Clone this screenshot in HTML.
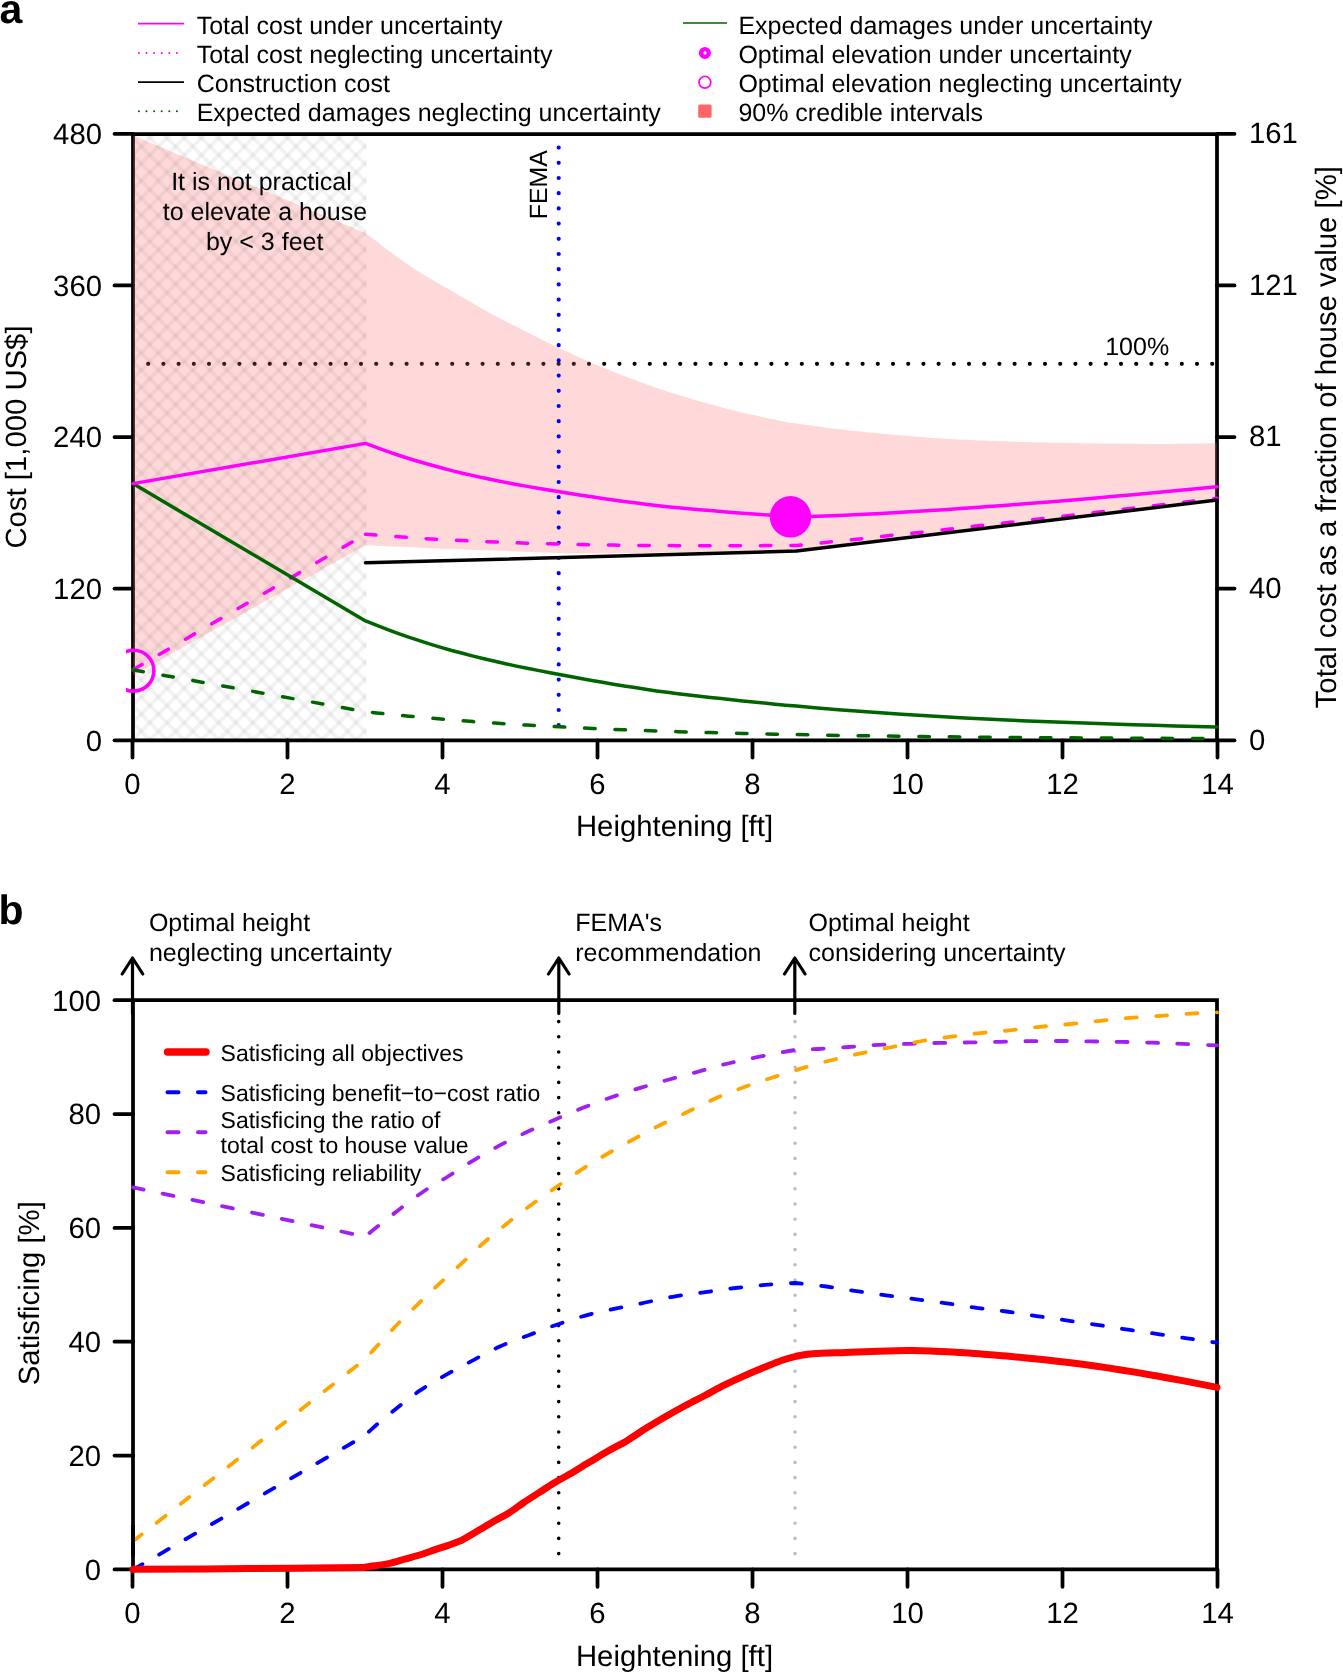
<!DOCTYPE html><html><head><meta charset="utf-8"><style>html,body{margin:0;padding:0;background:#fff;width:1343px;height:1673px;overflow:hidden}svg{display:block;will-change:transform}text{font-family:'Liberation Sans',sans-serif;fill:#000;text-rendering:geometricPrecision}</style></head><body>
<svg width="1343" height="1673" viewBox="0 0 1343 1673">
<defs>
<clipPath id="ca"><rect x="126" y="127" width="1098" height="620"/></clipPath>
<clipPath id="cb"><rect x="126" y="993" width="1098" height="583"/></clipPath>
<pattern id="hatch" patternUnits="userSpaceOnUse" width="17.2" height="17.2" x="7.9" y="13.2"><path d="M-17.2 0L34.4 51.6 M-17.2 -17.2L34.4 34.4 M-17.2 -34.4L34.4 17.2" stroke="#000" stroke-opacity="0.05" stroke-width="3.6"/><path d="M-17.2 8.6L34.4 -43 M-17.2 25.8L34.4 -25.8 M-17.2 43L34.4 -8.6 M-17.2 60.2L34.4 8.6" stroke="#000" stroke-opacity="0.05" stroke-width="3.6"/></pattern>
</defs>
<text x="-0.5" y="22.7" style="font-weight:bold;font-size:41px">a</text>
<g style="font-size:25px">
<text x="196.7" y="33.5">Total cost under uncertainty</text>
<text x="196.7" y="62.8">Total cost neglecting uncertainty</text>
<text x="196.7" y="92.1">Construction cost</text>
<text x="196.7" y="121.2">Expected damages neglecting uncertainty</text>
<text x="738.4" y="33.5">Expected damages under uncertainty</text>
<text x="738.4" y="62.8">Optimal elevation under uncertainty</text>
<text x="738.4" y="92.1">Optimal elevation neglecting uncertainty</text>
<text x="738.4" y="121.2">90% credible intervals</text>
</g>
<path d="M138 23.6H184" stroke="#f0f" stroke-width="1.6"/>
<path d="M138.9 53H184" stroke="#f0f" stroke-width="2" stroke-dasharray="0 7.6" stroke-linecap="round"/>
<path d="M138 82.1H184" stroke="#000" stroke-width="1.6"/>
<path d="M138.9 111.2H184" stroke="#006400" stroke-width="2" stroke-dasharray="0 7.6" stroke-linecap="round"/>
<path d="M683 23H727" stroke="#006400" stroke-width="1.6"/>
<circle cx="704.9" cy="53" r="3.9" fill="none" stroke="#f0f" stroke-width="4.3"/>
<circle cx="704.9" cy="82.2" r="5.9" fill="none" stroke="#f0f" stroke-width="1.7"/>
<rect x="698.2" y="104.4" width="13.4" height="13.3" rx="1.5" fill="#f66"/>
<path d="M133 134H1217V740.3H133Z" stroke="#000" stroke-width="3.75" fill="none" stroke-linejoin="miter"/>
<path d="M114.5 133.8H133" stroke="#000" stroke-width="3.75" fill="none" stroke-linecap="round"/>
<text x="102" y="144.2" text-anchor="end" style="font-size:29.3px">480</text>
<path d="M114.5 285.4H133" stroke="#000" stroke-width="3.75" fill="none" stroke-linecap="round"/>
<text x="102" y="295.8" text-anchor="end" style="font-size:29.3px">360</text>
<path d="M114.5 437H133" stroke="#000" stroke-width="3.75" fill="none" stroke-linecap="round"/>
<text x="102" y="447.4" text-anchor="end" style="font-size:29.3px">240</text>
<path d="M114.5 588.6H133" stroke="#000" stroke-width="3.75" fill="none" stroke-linecap="round"/>
<text x="102" y="599" text-anchor="end" style="font-size:29.3px">120</text>
<path d="M114.5 740.3H133" stroke="#000" stroke-width="3.75" fill="none" stroke-linecap="round"/>
<text x="102" y="750.7" text-anchor="end" style="font-size:29.3px">0</text>
<path d="M1217 133.8H1234.5" stroke="#000" stroke-width="3.75" fill="none" stroke-linecap="round"/>
<text x="1249" y="143.2" style="font-size:29.3px">161</text>
<path d="M1217 285.4H1234.5" stroke="#000" stroke-width="3.75" fill="none" stroke-linecap="round"/>
<text x="1249" y="294.8" style="font-size:29.3px">121</text>
<path d="M1217 437H1234.5" stroke="#000" stroke-width="3.75" fill="none" stroke-linecap="round"/>
<text x="1249" y="446.4" style="font-size:29.3px">81</text>
<path d="M1217 588.6H1234.5" stroke="#000" stroke-width="3.75" fill="none" stroke-linecap="round"/>
<text x="1249" y="598" style="font-size:29.3px">40</text>
<path d="M1217 740.3H1234.5" stroke="#000" stroke-width="3.75" fill="none" stroke-linecap="round"/>
<text x="1249" y="749.7" style="font-size:29.3px">0</text>
<path d="M132.5 740.3V757.5" stroke="#000" stroke-width="3.75" fill="none" stroke-linecap="round"/>
<text x="132.5" y="793.8" text-anchor="middle" style="font-size:29.3px">0</text>
<path d="M287.5 740.3V757.5" stroke="#000" stroke-width="3.75" fill="none" stroke-linecap="round"/>
<text x="287.5" y="793.8" text-anchor="middle" style="font-size:29.3px">2</text>
<path d="M442.5 740.3V757.5" stroke="#000" stroke-width="3.75" fill="none" stroke-linecap="round"/>
<text x="442.5" y="793.8" text-anchor="middle" style="font-size:29.3px">4</text>
<path d="M597.5 740.3V757.5" stroke="#000" stroke-width="3.75" fill="none" stroke-linecap="round"/>
<text x="597.5" y="793.8" text-anchor="middle" style="font-size:29.3px">6</text>
<path d="M752.5 740.3V757.5" stroke="#000" stroke-width="3.75" fill="none" stroke-linecap="round"/>
<text x="752.5" y="793.8" text-anchor="middle" style="font-size:29.3px">8</text>
<path d="M907.5 740.3V757.5" stroke="#000" stroke-width="3.75" fill="none" stroke-linecap="round"/>
<text x="907.5" y="793.8" text-anchor="middle" style="font-size:29.3px">10</text>
<path d="M1062.5 740.3V757.5" stroke="#000" stroke-width="3.75" fill="none" stroke-linecap="round"/>
<text x="1062.5" y="793.8" text-anchor="middle" style="font-size:29.3px">12</text>
<path d="M1217.5 740.3V757.5" stroke="#000" stroke-width="3.75" fill="none" stroke-linecap="round"/>
<text x="1217.5" y="793.8" text-anchor="middle" style="font-size:29.3px">14</text>
<text x="674.5" y="835.8" text-anchor="middle" style="font-size:29.3px">Heightening [ft]</text>
<text transform="translate(25.5 437) rotate(-90)" text-anchor="middle" style="font-size:29.3px">Cost [1,000 US$]</text>
<text transform="translate(1336.2 437.2) rotate(-90)" text-anchor="middle" style="font-size:29.4px">Total cost as a fraction of house value [%]</text>
<path d="M148.2 363.8H1217" stroke="#000" stroke-width="4.2" stroke-dasharray="0 15.2" stroke-linecap="round"/>
<text x="1105.2" y="355.2" style="font-size:25px">100%</text>
<text transform="translate(546.9 150.1) rotate(-90)" text-anchor="end" textLength="69.2" lengthAdjust="spacingAndGlyphs" style="font-size:25px">FEMA</text>
<g clip-path="url(#ca)">
<path d="M133 135.5 C171.8 151.8 326.8 216.9 365.5 233.2 C367.6 234.7 374.3 239.5 377.9 242.2 C381.4 244.9 380.9 244.9 386.8 249.3 C392.8 253.7 403.2 261.7 413.6 268.4 C424 275.1 437.4 282.6 449.3 289.6 C461.2 296.6 473.2 303.8 485.1 310.4 C497 317 508.9 322.9 520.8 329 C532.7 335.1 546.2 342 556.6 347 C567 352 576.5 356.1 583.4 359.2 C590.3 362.3 590.1 362.3 597.9 365.5 C605.7 368.7 617.2 373.5 630 378.2 C642.8 382.9 658.9 388.8 674.7 393.8 C690.5 398.8 710.5 404.5 724.7 408.3 C738.9 412.1 749 414.1 760 416.5 C771 418.9 785.5 421.8 790.6 422.8 C796 423.5 812 425.8 822.8 427.2 C833.6 428.6 844.6 429.8 855.5 431 C866.4 432.2 877.4 433.2 888.3 434.2 C899.2 435.2 910.1 436.2 921 437 C931.9 437.8 942.9 438.6 953.8 439.2 C964.7 439.8 977.2 440.3 986.6 440.7 C996 441.1 999.4 441.2 1010 441.5 C1020.6 441.8 1035.2 442.2 1050.3 442.6 C1065.4 443 1083.8 443.4 1100.5 443.6 C1117.2 443.8 1134 443.9 1150.8 443.9 C1167.5 443.9 1190 443.6 1201 443.4 C1212 443.2 1214.3 443 1217 442.9 L1217 498.4 L1196 500.9 L1175 503.5 L1153.9 506 L1132.9 508.6 L1111.9 511.1 L1090.8 513.7 L1069.8 516.2 L1048.8 518.8 L1027.8 521.3 L1006.8 523.9 L985.7 526.4 L964.7 529 L943.7 531.5 L922.6 534.1 L901.6 536.6 L880.6 539.2 L859.6 541.7 L838.5 544.3 L817.5 546.8 L796.5 549.4 C793.2 549.5 796.3 549.4 776.6 549.9 C756.9 550.4 711.1 551.8 678.3 552.4 C645.5 553 600.3 553.5 580 553.6 C559.7 553.7 571.4 553.4 556.6 552.9 C541.8 552.4 512.9 551.3 491 550.5 C469.1 549.7 446.4 548.9 425.5 548 C404.6 547.1 375.5 545.8 365.5 545.3 C326.8 566.9 171.8 653.6 133 675.2 Z" fill="#f66" fill-opacity="0.25"/>
<rect x="133" y="134" width="233.5" height="606.3" fill="url(#hatch)"/>
</g>
<path d="M558.7 147.6V740" stroke="#00f" stroke-width="4.2" stroke-dasharray="0 15.2" stroke-linecap="round"/>
<g style="font-size:25px" text-anchor="middle">
<text x="261.5" y="190">It is not practical</text>
<text x="265" y="220">to elevate a house</text>
<text x="264.7" y="250">by &lt; 3 feet</text>
</g>
<g clip-path="url(#ca)" fill="none" stroke-linejoin="round">
<path d="M133 669.8 L365.5 534.2" stroke="#f0f" stroke-width="3.5" stroke-dasharray="10.5 19.9" stroke-linecap="round"/>
<path d="M365.5 534.2 L376.3 535.1 L387.1 536 L397.8 536.7 L408.6 537.5 L419.4 538.2 L430.1 538.9 L440.9 539.5 L451.7 540.1 L462.5 540.6 L473.2 541.1 L484 541.6 L494.8 542 L505.6 542.5 L516.4 542.8 L527.1 543.2 L537.9 543.5 L548.7 543.8 L559.5 544.1 L570.2 544.3 L581 544.5 L591.8 544.7 L602.5 544.9 L613.3 545.1 L624.1 545.2 L634.9 545.4 L645.6 545.5 L656.4 545.5 L667.2 545.6 L678 545.7 L688.8 545.7 L699.5 545.7 L710.3 545.8 L721.1 545.8 L731.9 545.7 L742.6 545.7 L753.4 545.7 L764.2 545.6 L775 545.6 L785.7 545.5 L796.5 545.4 L817.5 543.3 L838.5 541.1 L859.6 538.9 L880.6 536.6 L901.6 534.3 L922.6 532.1 L943.7 529.7 L964.7 527.4 L985.7 525 L1006.8 522.7 L1027.8 520.3 L1048.8 517.9 L1069.8 515.5 L1090.8 513.1 L1111.9 510.6 L1132.9 508.2 L1153.9 505.7 L1175 503.3 L1196 500.8 L1217 498.3" stroke="#f0f" stroke-width="3.5" stroke-dasharray="10.5 19.9" stroke-linecap="round"/>
<path d="M133 669.8 L365.5 711.7 L376.3 712.9 L387.1 714 L397.8 715.1 L408.6 716.2 L419.4 717.2 L430.1 718.1 L440.9 719 L451.7 719.9 L462.5 720.7 L473.2 721.6 L484 722.3 L494.8 723.1 L505.6 723.8 L516.4 724.4 L527.1 725.1 L537.9 725.7 L548.7 726.3 L559.5 726.8 L570.2 727.4 L581 727.9 L591.8 728.4 L602.5 728.9 L613.3 729.3 L624.1 729.8 L634.9 730.2 L645.6 730.6 L656.4 730.9 L667.2 731.3 L678 731.7 L688.8 732 L699.5 732.3 L710.3 732.6 L721.1 732.9 L731.9 733.2 L742.6 733.5 L753.4 733.7 L764.2 734 L775 734.2 L785.7 734.4 L796.5 734.6 L817.5 735 L838.5 735.4 L859.6 735.7 L880.6 736 L901.6 736.3 L922.6 736.6 L943.7 736.8 L964.7 737 L985.7 737.2 L1006.8 737.4 L1027.8 737.6 L1048.8 737.7 L1069.8 737.8 L1090.8 738 L1111.9 738.1 L1132.9 738.2 L1153.9 738.3 L1175 738.4 L1196 738.5 L1217 738.6" stroke="#006400" stroke-width="3.5" stroke-dasharray="10.5 19.9" stroke-linecap="round"/>
<path d="M133 483.6 L365.5 620.9 L376.3 625.2 L387.1 629.4 L397.8 633.4 L408.6 637.2 L419.4 640.7 L430.1 644.1 L440.9 647.4 L451.7 650.5 L462.5 653.3 L473.2 656.1 L484 658.7 L494.8 661.3 L505.6 663.7 L516.4 666.1 L527.1 668.3 L537.9 670.4 L548.7 672.5 L559.5 674.5 L570.2 676.5 L581 678.5 L591.8 680.5 L602.5 682.3 L613.3 684.2 L624.1 685.9 L634.9 687.6 L645.6 689.3 L656.4 690.9 L667.2 692.3 L678 693.7 L688.8 695 L699.5 696.3 L710.3 697.5 L721.1 698.6 L731.9 699.8 L742.6 701 L753.4 702.1 L764.2 703.1 L775 704.2 L785.7 705.2 L796.5 706.1 L817.5 707.9 L838.5 709.7 L859.6 711.3 L880.6 712.8 L901.6 714.2 L922.6 715.5 L943.7 716.7 L964.7 717.9 L985.7 719 L1006.8 720 L1027.8 720.9 L1048.8 721.8 L1069.8 722.6 L1090.8 723.3 L1111.9 724 L1132.9 724.7 L1153.9 725.3 L1175 725.9 L1196 726.5 L1217 727" stroke="#006400" stroke-width="3.5" stroke-linecap="round"/>
<path d="M133 483.6 L365.5 443.4 L376.3 447.4 L387.1 451.3 L397.8 455 L408.6 458.5 L419.4 461.7 L430.1 464.8 L440.9 467.8 L451.7 470.6 L462.5 473.2 L473.2 475.6 L484 478 L494.8 480.3 L505.6 482.4 L516.4 484.5 L527.1 486.4 L537.9 488.2 L548.7 490 L559.5 491.7 L570.2 493.5 L581 495.2 L591.8 496.8 L602.5 498.4 L613.3 499.9 L624.1 501.4 L634.9 502.8 L645.6 504.2 L656.4 505.5 L667.2 506.7 L678 507.7 L688.8 508.7 L699.5 509.7 L710.3 510.6 L721.1 511.5 L731.9 512.4 L742.6 513.2 L753.4 514 L764.2 514.8 L775 515.6 L785.7 516.2 L796.5 516.9 L817.5 516.2 L838.5 515.4 L859.6 514.4 L880.6 513.4 L901.6 512.2 L922.6 511 L943.7 509.7 L964.7 508.3 L985.7 506.8 L1006.8 505.2 L1027.8 503.6 L1048.8 502 L1069.8 500.2 L1090.8 498.4 L1111.9 496.6 L1132.9 494.7 L1153.9 492.8 L1175 490.8 L1196 488.8 L1217 486.8" stroke="#f0f" stroke-width="3.5" stroke-linecap="round"/>
<path d="M365.5 562.8 L796.5 551.1 L1217 500.1" stroke="#000" stroke-width="3.5" stroke-linecap="round"/>
<circle cx="133.5" cy="670.7" r="20.4" stroke="#f0f" stroke-width="3.6"/>
</g>
<circle cx="790.5" cy="516.8" r="20.7" fill="#f0f"/>
<text x="-1.5" y="924" style="font-weight:bold;font-size:41px">b</text>
<g style="font-size:25px">
<text x="148.9" y="931.3">Optimal height</text><text x="148.9" y="961.3">neglecting uncertainty</text>
<text x="575.3" y="931.3">FEMA's</text><text x="575.3" y="961.3">recommendation</text>
<text x="808.5" y="931.3">Optimal height</text><text x="808.5" y="961.3">considering uncertainty</text>
</g>
<path d="M132.5 1013.5V958M122.2 974L132.5 958L142.8 974" stroke="#000" stroke-width="3.2" fill="none" stroke-linecap="round" stroke-linejoin="round"/>
<path d="M558.8 1013.5V958M548.5 974L558.8 958L569.1 974" stroke="#000" stroke-width="3.2" fill="none" stroke-linecap="round" stroke-linejoin="round"/>
<path d="M794.8 1013.5V958M784.5 974L794.8 958L805.1 974" stroke="#000" stroke-width="3.2" fill="none" stroke-linecap="round" stroke-linejoin="round"/>
<path d="M133 1000.2H1217V1569.4H133Z" stroke="#000" stroke-width="3.75" fill="none"/>
<path d="M114.5 1569.4H133" stroke="#000" stroke-width="3.75" fill="none" stroke-linecap="round"/>
<text x="101" y="1579.8" text-anchor="end" style="font-size:29.3px">0</text>
<path d="M114.5 1455.6H133" stroke="#000" stroke-width="3.75" fill="none" stroke-linecap="round"/>
<text x="101" y="1466" text-anchor="end" style="font-size:29.3px">20</text>
<path d="M114.5 1341.7H133" stroke="#000" stroke-width="3.75" fill="none" stroke-linecap="round"/>
<text x="101" y="1352.1" text-anchor="end" style="font-size:29.3px">40</text>
<path d="M114.5 1227.9H133" stroke="#000" stroke-width="3.75" fill="none" stroke-linecap="round"/>
<text x="101" y="1238.3" text-anchor="end" style="font-size:29.3px">60</text>
<path d="M114.5 1114H133" stroke="#000" stroke-width="3.75" fill="none" stroke-linecap="round"/>
<text x="101" y="1124.4" text-anchor="end" style="font-size:29.3px">80</text>
<path d="M114.5 1000.2H133" stroke="#000" stroke-width="3.75" fill="none" stroke-linecap="round"/>
<text x="101" y="1010.6" text-anchor="end" style="font-size:29.3px">100</text>
<path d="M132.5 1569.4V1586.8" stroke="#000" stroke-width="3.75" fill="none" stroke-linecap="round"/>
<text x="132.5" y="1623" text-anchor="middle" style="font-size:29.3px">0</text>
<path d="M287.5 1569.4V1586.8" stroke="#000" stroke-width="3.75" fill="none" stroke-linecap="round"/>
<text x="287.5" y="1623" text-anchor="middle" style="font-size:29.3px">2</text>
<path d="M442.5 1569.4V1586.8" stroke="#000" stroke-width="3.75" fill="none" stroke-linecap="round"/>
<text x="442.5" y="1623" text-anchor="middle" style="font-size:29.3px">4</text>
<path d="M597.5 1569.4V1586.8" stroke="#000" stroke-width="3.75" fill="none" stroke-linecap="round"/>
<text x="597.5" y="1623" text-anchor="middle" style="font-size:29.3px">6</text>
<path d="M752.5 1569.4V1586.8" stroke="#000" stroke-width="3.75" fill="none" stroke-linecap="round"/>
<text x="752.5" y="1623" text-anchor="middle" style="font-size:29.3px">8</text>
<path d="M907.5 1569.4V1586.8" stroke="#000" stroke-width="3.75" fill="none" stroke-linecap="round"/>
<text x="907.5" y="1623" text-anchor="middle" style="font-size:29.3px">10</text>
<path d="M1062.5 1569.4V1586.8" stroke="#000" stroke-width="3.75" fill="none" stroke-linecap="round"/>
<text x="1062.5" y="1623" text-anchor="middle" style="font-size:29.3px">12</text>
<path d="M1217.5 1569.4V1586.8" stroke="#000" stroke-width="3.75" fill="none" stroke-linecap="round"/>
<text x="1217.5" y="1623" text-anchor="middle" style="font-size:29.3px">14</text>
<text x="674.5" y="1666.2" text-anchor="middle" style="font-size:29.3px">Heightening [ft]</text>
<text transform="translate(39 1293.2) rotate(-90)" text-anchor="middle" style="font-size:29.3px">Satisficing [%]</text>
<path d="M558.7 1021.6V1556" stroke="#000" stroke-width="3.6" stroke-dasharray="0 15.2" stroke-linecap="round"/>
<path d="M795 1021.6V1556" stroke="#bebebe" stroke-width="3.6" stroke-dasharray="0 15.2" stroke-linecap="round"/>
<g style="font-size:23px">
<text x="220.6" y="1060.9">Satisficing all objectives</text>
<text x="220.6" y="1101">Satisficing benefit−to−cost ratio</text>
<text x="220.6" y="1127.9">Satisficing the ratio of</text>
<text x="220.6" y="1153.1">total cost to house value</text>
<text x="220.6" y="1181.1">Satisficing reliability</text>
</g>
<path d="M167.5 1052H206" stroke="#f00" stroke-width="7.4" stroke-linecap="round"/>
<path d="M167.5 1092.2H178.5M198 1092.2H205.5" stroke="#00f" stroke-width="4" stroke-linecap="round"/>
<path d="M167.5 1132.2H178.5M198 1132.2H205.5" stroke="#a020f0" stroke-width="4" stroke-linecap="round"/>
<path d="M167.5 1172.2H178.5M198 1172.2H205.5" stroke="#ffa500" stroke-width="4" stroke-linecap="round"/>
<g clip-path="url(#cb)" fill="none" stroke-linejoin="round">
<path d="M133 1187.3 C171.8 1195.5 326.8 1228.4 365.5 1236.6 C366.8 1235.5 368 1234.1 373.4 1229.8 C378.8 1225.5 389.2 1217.1 397.6 1210.7 C406 1204.3 415.5 1196.9 423.9 1191.2 C432.3 1185.5 439.6 1181.7 447.9 1176.5 C456.2 1171.3 464.9 1165.5 473.6 1160.3 C482.3 1155.1 491.1 1150 500.1 1145.2 C509.1 1140.5 518.2 1136.1 527.4 1131.8 C536.6 1127.5 546 1123.5 555.3 1119.5 C564.6 1115.5 573.6 1111.5 583 1107.8 C592.4 1104.1 601.9 1100.5 611.4 1097.2 C620.9 1093.9 630.7 1090.9 640.3 1087.9 C649.9 1085 659.3 1082.2 669.1 1079.5 C678.9 1076.8 689.1 1074.2 698.9 1071.5 C708.7 1068.8 712.6 1067 728.1 1063.5 C743.6 1060 777 1052.9 792 1050.5 C807 1048.1 808.8 1049.6 818.2 1049 C827.6 1048.4 838.4 1047.7 848.5 1047 C858.6 1046.3 868.7 1045.4 878.8 1044.9 C888.9 1044.4 899 1044.1 909.1 1043.8 C919.2 1043.5 929.3 1043.1 939.4 1042.9 C949.5 1042.7 959.6 1042.6 969.7 1042.4 C979.8 1042.2 989.9 1042 1000 1041.8 C1010.1 1041.6 1020.3 1041.3 1030.5 1041.2 C1040.7 1041.1 1051 1041 1061.1 1041 C1071.2 1041 1081.2 1041.2 1091.3 1041.4 C1101.4 1041.6 1111.6 1041.7 1121.8 1041.9 C1132 1042.1 1142.4 1042.4 1152.5 1042.7 C1162.6 1043 1171.8 1043.5 1182.6 1043.9 C1193.3 1044.4 1211.3 1045.2 1217 1045.4" stroke="#a020f0" stroke-width="3.8" stroke-dasharray="11 19.4" stroke-linecap="round"/>
<path d="M133 1541.3 C171.8 1510.9 326.8 1389.3 365.5 1358.9 C367 1357.2 369.6 1354.1 374.7 1348.6 C379.8 1343.1 388.9 1333.1 396 1325.8 C403.1 1318.5 410 1311.9 417.2 1304.9 C424.4 1297.9 431.8 1290.8 439.2 1283.9 C446.6 1277 454.3 1270.3 461.7 1263.4 C469.1 1256.5 476.2 1249.4 483.8 1242.7 C491.4 1236 499.4 1229.5 507.3 1223.2 C515.2 1216.9 523.3 1210.8 531.4 1204.8 C539.5 1198.8 547.7 1193.1 556 1187.3 C564.3 1181.5 572.6 1175.3 581.1 1169.8 C589.6 1164.2 598.3 1159.1 607.1 1154 C615.9 1148.9 625 1143.9 633.8 1139.1 C642.6 1134.3 650.8 1129.8 659.8 1125.2 C668.8 1120.7 678.6 1116.2 687.8 1111.8 C696.9 1107.4 705.5 1102.8 714.7 1098.7 C723.9 1094.7 733.5 1091 743 1087.5 C752.5 1084 762.2 1080.9 771.9 1077.7 C781.6 1074.5 791.3 1071.5 801 1068.6 C810.7 1065.7 820.3 1063 830.1 1060.5 C839.9 1058 849.7 1055.8 859.6 1053.6 C869.5 1051.4 879.4 1049.5 889.4 1047.5 C899.4 1045.5 909.3 1043.3 919.4 1041.5 C929.5 1039.7 939.6 1038.3 949.7 1036.9 C959.8 1035.5 969.9 1034.2 980 1033.1 C990.1 1032 1000.1 1031.3 1010.1 1030.3 C1020.1 1029.2 1030.2 1027.8 1040.2 1026.8 C1050.2 1025.8 1060.4 1025 1070.4 1024 C1080.5 1023 1090.5 1021.8 1100.5 1020.8 C1110.5 1019.8 1120.7 1018.6 1130.7 1017.8 C1140.8 1017 1150.7 1016.6 1160.8 1015.9 C1170.9 1015.2 1181.9 1014.2 1191.3 1013.6 C1200.7 1013 1212.7 1012.6 1217 1012.4" stroke="#ffa500" stroke-width="3.8" stroke-dasharray="11 19.4" stroke-linecap="round"/>
<path d="M133 1525V1556" stroke="#000" stroke-width="3.75"/>
<path d="M133 1569.6 C171.8 1547.2 326.8 1457.6 365.5 1435.2 C366.8 1434 368 1432.3 373.1 1427.8 C378.2 1423.3 388.6 1414.6 396.4 1408.4 C404.2 1402.2 411.8 1396 420.1 1390.4 C428.4 1384.8 437.4 1379.8 446.3 1374.7 C455.2 1369.7 464.4 1364.8 473.4 1360.1 C482.4 1355.3 491.2 1350.3 500.4 1346.2 C509.6 1342.1 519.3 1338.8 528.7 1335.2 C538.1 1331.6 547.1 1328 556.7 1324.7 C566.3 1321.4 576.5 1318 586.2 1315.3 C596 1312.6 605.4 1310.8 615.2 1308.7 C625.1 1306.6 635.3 1304.6 645.3 1302.5 C655.3 1300.4 665.3 1298 675.3 1296.3 C685.3 1294.6 695.3 1293.5 705.3 1292.1 C715.3 1290.7 725.3 1289.2 735.3 1288 C745.3 1286.8 755.3 1285.7 765.3 1284.9 C775.3 1284.1 790.5 1283.3 795.5 1283 C800.6 1283.6 816.3 1285.2 826.4 1286.5 C836.5 1287.8 846.3 1289.6 856.3 1291.1 C866.3 1292.6 876.2 1294 886.2 1295.4 C896.2 1296.8 906.4 1298 916.5 1299.3 C926.6 1300.6 936.8 1302 946.8 1303.4 C956.8 1304.8 966.8 1306.5 976.7 1307.8 C986.7 1309.1 996.5 1310.1 1006.5 1311.5 C1016.5 1312.9 1026.6 1314.6 1036.6 1316.1 C1046.6 1317.6 1056.3 1318.8 1066.3 1320.3 C1076.3 1321.8 1086.8 1323.3 1096.8 1324.8 C1106.8 1326.3 1116.2 1327.9 1126.2 1329.4 C1136.2 1330.9 1146.4 1332.4 1156.6 1333.9 C1166.8 1335.4 1177 1336.8 1187.1 1338.3 C1197.2 1339.8 1212 1342 1217 1342.7" stroke="#00f" stroke-width="3.8" stroke-dasharray="11 19.4" stroke-linecap="round"/>
<path d="M133 1569.3 C152.5 1569.2 211.8 1568.9 250 1568.6 C288.2 1568.3 343.3 1567.8 362 1567.6 C364.1 1567.3 370.3 1566.5 374.9 1565.8 C379.5 1565.1 384.8 1564.4 389.8 1563.3 C394.8 1562.2 399.7 1560.5 404.7 1559.1 C409.7 1557.7 414.6 1556.5 419.6 1555 C424.6 1553.5 429.5 1551.6 434.5 1549.9 C439.5 1548.2 444.9 1546.6 449.4 1545 C453.9 1543.4 459.3 1541.2 461.3 1540.5 C464.3 1538.8 473.7 1533.3 479.1 1530.1 C484.6 1526.9 489 1524 494 1521.2 C499 1518.4 503.9 1516.1 508.9 1513 C513.9 1509.9 518.8 1505.8 523.8 1502.5 C528.8 1499.2 533.7 1496.1 538.7 1492.9 C543.7 1489.7 548.5 1486.3 553.6 1483.2 C558.7 1480.1 563.5 1477.7 569.4 1474.3 C575.2 1470.9 582.2 1466.5 588.7 1462.6 C595.2 1458.7 601.7 1454.7 608.1 1451 C614.5 1447.3 621 1444.3 627.4 1440.4 C633.8 1436.5 640.3 1431.8 646.8 1427.8 C653.3 1423.8 659.8 1419.9 666.2 1416.2 C672.7 1412.5 679 1409 685.5 1405.5 C692 1402 698.4 1398.9 704.9 1395.5 C711.4 1392.1 717.8 1388.4 724.2 1385.2 C730.7 1382 737.1 1379 743.6 1376.1 C750.1 1373.2 756.5 1370.4 763 1367.8 C769.5 1365.2 776.9 1362.1 782.3 1360.2 C787.7 1358.3 793.1 1357.1 795.2 1356.5 C798.1 1356 804.4 1354.5 812.8 1353.8 C821.2 1353.1 834.6 1352.9 845.5 1352.5 C856.4 1352.1 867.9 1351.6 878.3 1351.3 C888.7 1351 899.1 1350.7 907.8 1350.6 C916.5 1350.5 921.9 1350.6 930.6 1350.9 C939.3 1351.2 951.8 1352 960.2 1352.5 C968.7 1353 973.6 1353.4 981.3 1354 C989 1354.6 998.2 1355.3 1006.6 1356.1 C1015 1356.8 1023.5 1357.7 1031.9 1358.5 C1040.3 1359.3 1048.8 1360.2 1057.2 1361.2 C1065.6 1362.2 1074.1 1363.2 1082.5 1364.3 C1090.9 1365.4 1099.3 1366.6 1107.8 1367.9 C1116.2 1369.2 1124.8 1370.5 1133.2 1371.9 C1141.7 1373.3 1150.1 1374.8 1158.5 1376.3 C1166.9 1377.8 1174 1379.1 1183.8 1380.9 C1193.5 1382.8 1211.5 1386.3 1217 1387.4" stroke="#f00" stroke-width="7" stroke-linecap="round"/>
</g>
</svg></body></html>
